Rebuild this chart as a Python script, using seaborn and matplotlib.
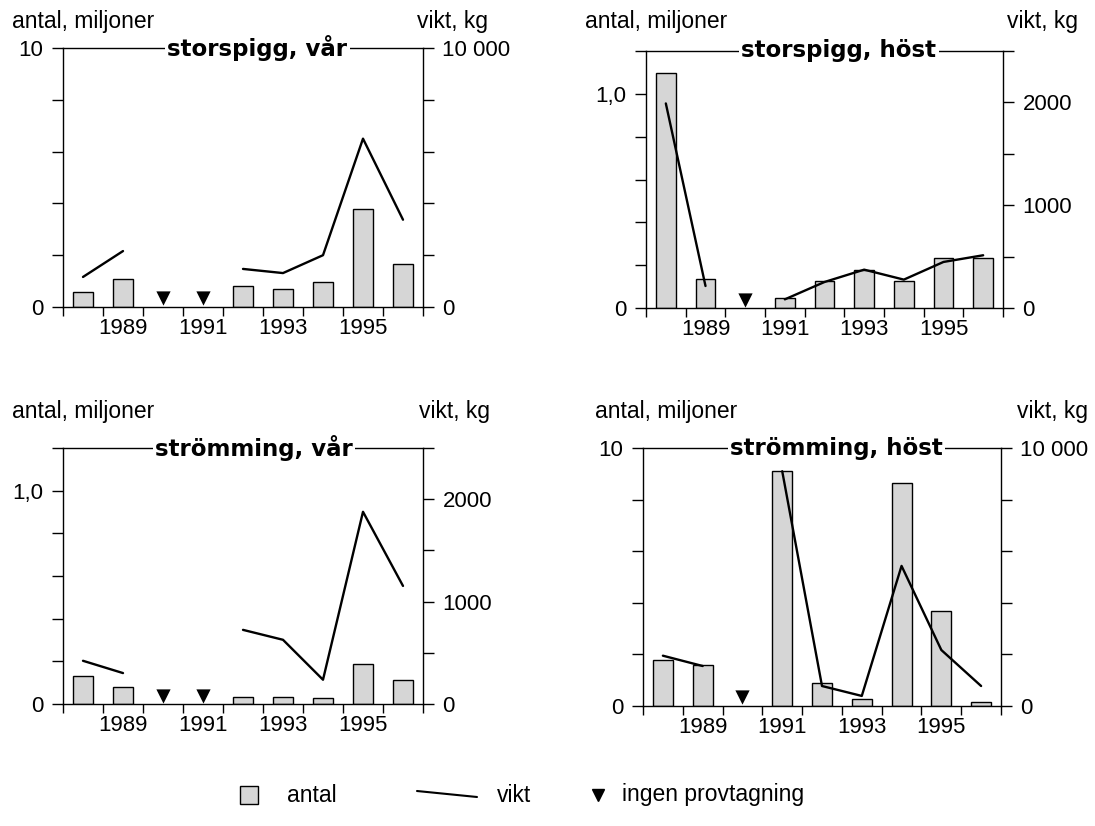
import numpy as np
import pandas as pd
import matplotlib
matplotlib.use("Agg")
import matplotlib.pyplot as plt
import seaborn as sns
from matplotlib.patches import Rectangle

nan = np.nan

# ---------------- data ----------------
years = [1988, 1989, 1990, 1991, 1992, 1993, 1994, 1995, 1996]
year_ticklabels = ["1989", "1991", "1993", "1995"]

storspigg_var_antal = [0.58, 1.07, nan, nan, 0.81, 0.68, 0.95, 3.80, 1.65]
storspigg_var_vikt = [1160, 2160, nan, nan, 1470, 1310, 2000, 6500, 3370]

storspigg_host_antal = [1.096, 0.134, nan, 0.048, 0.124, 0.176, 0.128, 0.235, 0.235]
storspigg_host_vikt = [1990, 214, nan, 84, 253, 373, 276, 448, 513]

stromming_var_antal = [0.132, 0.082, nan, nan, 0.034, 0.034, 0.028, 0.188, 0.114]
stromming_var_vikt = [422, 302, nan, nan, 724, 627, 237, 1877, 1153]

stromming_host_antal = [1.78, 1.59, nan, 9.10, 0.88, 0.26, 8.66, 3.68, 0.17]
stromming_host_vikt = [1950, 1550, nan, 9100, 775, 390, 5430, 2170, 775]

titles = ["storspigg, vår", "storspigg, höst", "strömming, vår", "strömming, höst"]

left_ticks_big = [0, 2, 4, 6, 8, 10]
left_labels_big = ["0", "", "", "", "", "10"]
right_ticks_big = [0, 2000, 4000, 6000, 8000, 10000]
right_labels_big = ["0", "", "", "", "", "10 000"]

left_ticks_small = [0, 0.2, 0.4, 0.6, 0.8, 1.0, 1.2]
left_labels_small = ["0", "", "", "", "", "1,0", ""]
right_ticks_small = [0, 500, 1000, 1500, 2000, 2500]
right_labels_small = ["0", "", "1000", "", "2000", ""]

left_axis_label = "antal, miljoner"
right_axis_label = "vikt, kg"
legend_labels = ["antal", "vikt", "ingen provtagning"]

# ---------------- style ----------------
sns.set_theme(style="white")
plt.rcParams["font.family"] = ["Liberation Sans", "DejaVu Sans"]
plt.rcParams["axes.edgecolor"] = "black"
plt.rcParams["axes.linewidth"] = 1.0
plt.rcParams["xtick.color"] = "black"
plt.rcParams["ytick.color"] = "black"
plt.rcParams["text.color"] = "black"
plt.rcParams["xtick.labelcolor"] = "black"
plt.rcParams["ytick.labelcolor"] = "black"

BAR = "#d6d6d6"
FS = 16
FS_LAB = 16.5

W, H = 1095, 826
fig = plt.figure(figsize=(W / 100, H / 100), dpi=100)
fig.patch.set_facecolor("white")


def rect(l, t, r, b):
    return [l / W, 1 - b / H, (r - l) / W, (b - t) / H]


def draw_panel(box, antal, vikt, title, lticks, llabels, rticks, rlabels,
               title_x, lab_left_x, lab_right_x, lab_y):
    ax = fig.add_axes(rect(*box))
    df = pd.DataFrame({
        "year": [str(y) for y in years],
        "pos": np.arange(len(years), dtype=float),
        "antal": antal,
        "vikt": vikt,
    })
    df["seg"] = df["vikt"].isna().cumsum()

    sns.barplot(data=df, x="year", y="antal", order=list(df["year"]),
                width=0.5, color=BAR, saturation=1, edgecolor="black",
                linewidth=1.0, errorbar=None, ax=ax)

    lmax = lticks[-1]
    miss = df[df["antal"].isna() & df["vikt"].isna()]
    sns.scatterplot(x=miss["pos"], y=np.full(len(miss), lmax * 0.033),
                    marker="v", s=105, color="black", linewidth=0, ax=ax,
                    legend=False, zorder=5)

    ax2 = ax.twinx()
    sns.lineplot(data=df.dropna(subset=["vikt"]), x="pos", y="vikt",
                 units="seg", estimator=None, color="black", linewidth=1.7,
                 ax=ax2, legend=False)

    # x axis
    ax.set_xlim(-0.5, len(years) - 0.5)
    ax.set_xticks(np.arange(-0.5, len(years), 1.0))
    ax.set_xticklabels([])
    ax.set_xticks([1, 3, 5, 7], labels=year_ticklabels, minor=True)
    ax.tick_params(axis="x", which="major", length=6.5, width=1.0,
                   direction="out", bottom=True)
    ax.tick_params(axis="x", which="minor", length=0, pad=8,
                   labelsize=FS, bottom=True)

    # left y axis
    ax.set_ylim(0, lmax)
    ax.set_yticks(lticks, labels=llabels)
    ax.tick_params(axis="y", which="major", length=8, width=1.0,
                   direction="out", labelsize=FS, pad=6, left=True)
    ax.set_xlabel("")
    ax.set_ylabel("")

    # right y axis
    ax2.set_ylim(0, rticks[-1])
    ax2.set_yticks(rticks, labels=rlabels)
    ax2.tick_params(axis="y", which="major", length=8, width=1.0,
                    direction="out", labelsize=FS, pad=6, right=True)
    ax2.set_xlabel("")
    ax2.set_ylabel("")

    for s in ["top", "left", "bottom"]:
        ax.spines[s].set_visible(True)
        ax.spines[s].set_linewidth(1.0)
        ax2.spines[s].set_visible(False)
    ax.spines["right"].set_visible(False)
    ax2.spines["right"].set_visible(True)
    ax2.spines["right"].set_linewidth(1.0)

    ax2.text(title_x, 1.0, title, transform=ax2.transAxes, ha="center",
             va="center", fontsize=16.5, fontweight="bold",
             family="DejaVu Sans", color="black", zorder=10,
             bbox=dict(facecolor="white", edgecolor="none",
                       boxstyle="square,pad=0.1"))

    fig.text(lab_left_x / W, 1 - lab_y / H, left_axis_label, ha="left",
             va="baseline", fontsize=FS_LAB)
    fig.text(lab_right_x / W, 1 - lab_y / H, right_axis_label, ha="right",
             va="baseline", fontsize=FS_LAB)
    return ax, ax2


draw_panel((63, 48, 423, 307), storspigg_var_antal, storspigg_var_vikt,
           titles[0], left_ticks_big, left_labels_big, right_ticks_big,
           right_labels_big, 0.54, 12, 488, 28)
draw_panel((646, 51, 1003, 308), storspigg_host_antal, storspigg_host_vikt,
           titles[1], left_ticks_small, left_labels_small, right_ticks_small,
           right_labels_small, 0.54, 585, 1078, 28)
draw_panel((63, 448, 423, 704), stromming_var_antal, stromming_var_vikt,
           titles[2], left_ticks_small, left_labels_small, right_ticks_small,
           right_labels_small, 0.53, 12, 490, 418)
draw_panel((643, 448, 1001, 706), stromming_host_antal, stromming_host_vikt,
           titles[3], left_ticks_big, left_labels_big, right_ticks_big,
           right_labels_big, 0.54, 595, 1088, 418)

# ---------------- legend ----------------
lax = fig.add_axes([0, 0, 1, 1])
lax.set_xlim(0, W)
lax.set_ylim(H, 0)
lax.axis("off")
lax.add_patch(Rectangle((240, 786), 18, 18, facecolor=BAR,
                        edgecolor="black", linewidth=1.0))
lax.text(287, 795, legend_labels[0], ha="left", va="center", fontsize=FS_LAB)
lax.plot([417, 477], [791, 797], color="black", linewidth=1.5)
lax.text(497, 795, legend_labels[1], ha="left", va="center", fontsize=FS_LAB)
lax.plot([598], [795], marker="v", markersize=9, color="black",
         linestyle="none")
lax.text(622, 795, legend_labels[2], ha="left", va="center", fontsize=FS_LAB)

fig.savefig("out.png", dpi=100, facecolor="white")
